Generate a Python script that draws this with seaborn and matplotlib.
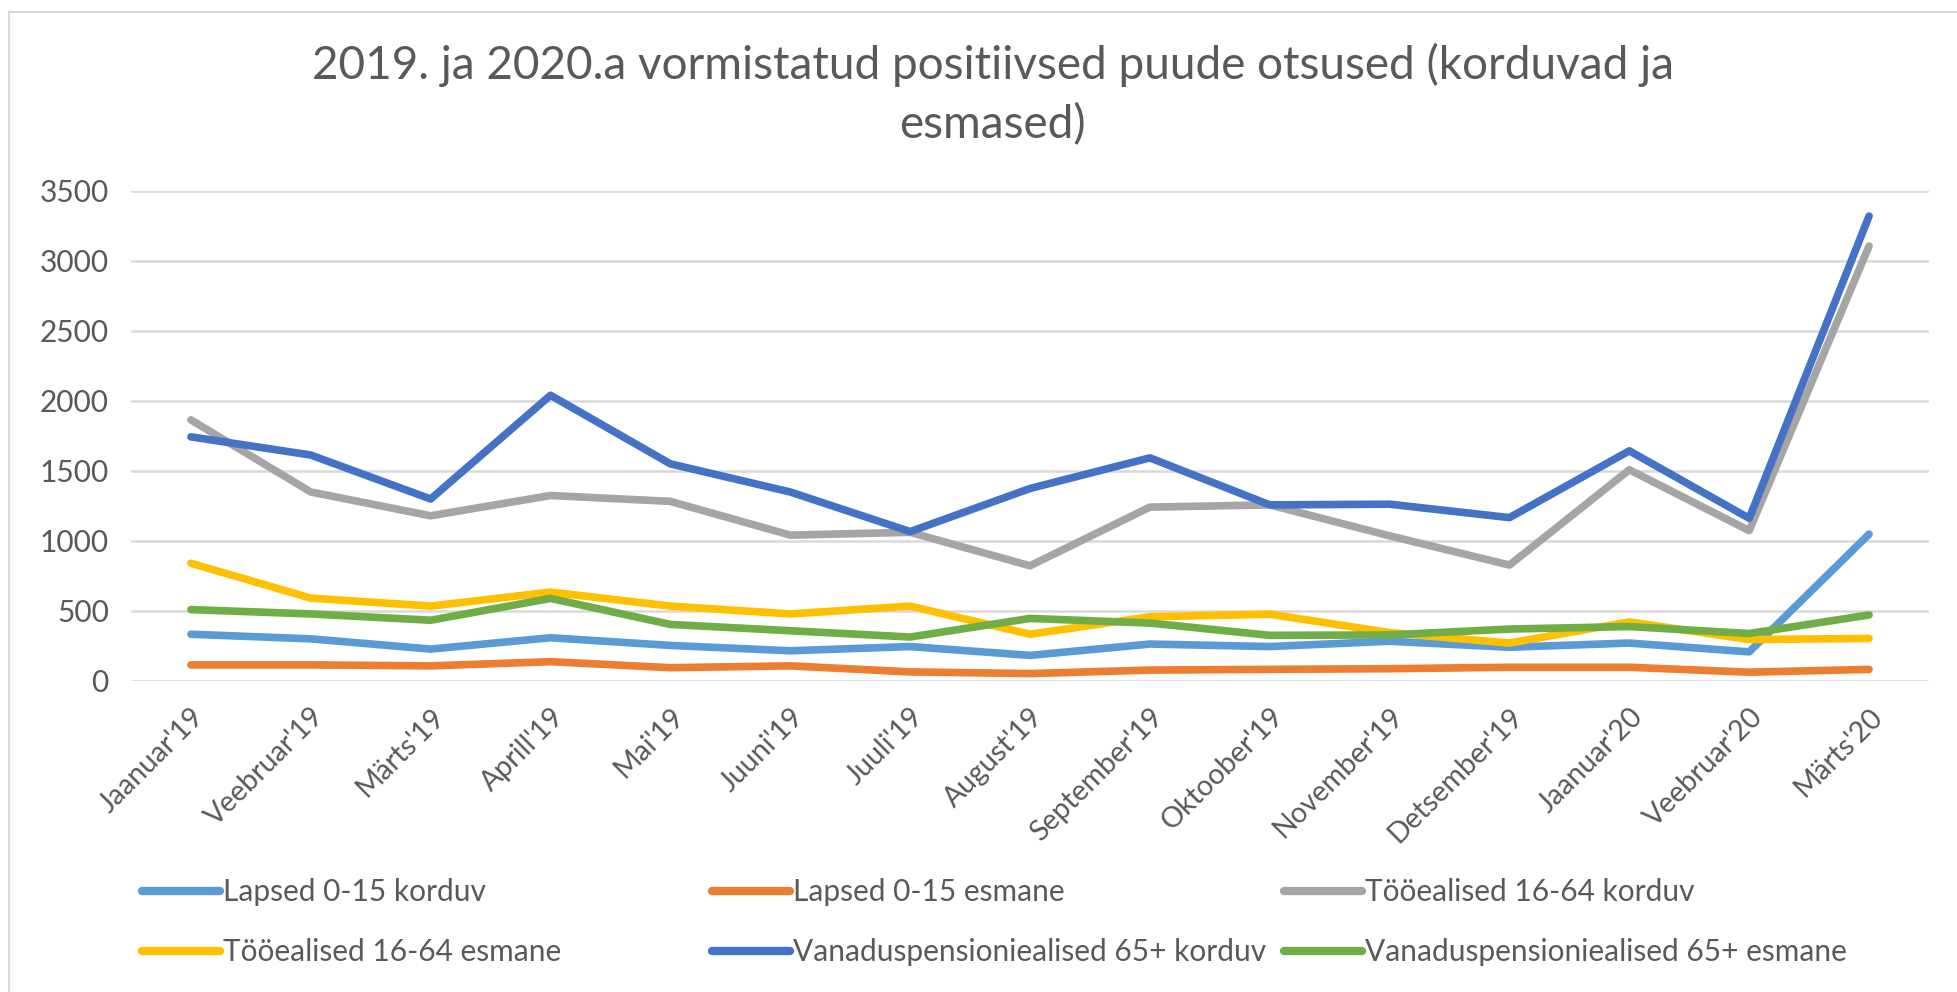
import pandas as pd
import seaborn as sns
import matplotlib.pyplot as plt
from matplotlib.lines import Line2D

# kuud ja andmed (loetud jooniselt)
kuud = ["Jaanuar'19", "Veebruar'19", "Märts'19", "Aprill'19", "Mai'19", "Juuni'19",
        "Juuli'19", "August'19", "September'19", "Oktoober'19", "November'19",
        "Detsember'19", "Jaanuar'20", "Veebruar'20", "Märts'20"]

lapsed_korduv = [334, 301, 228, 309, 254, 216, 246, 183, 264, 246, 284, 241, 271, 208, 1049]
lapsed_esmane = [115, 115, 108, 138, 95, 108, 65, 53, 78, 83, 88, 98, 98, 63, 83]
tooealised_korduv = [1865, 1350, 1180, 1325, 1283, 1042, 1062, 823, 1242, 1258, 1037, 828, 1509, 1074, 3107]
tooealised_esmane = [841, 592, 535, 635, 535, 479, 535, 334, 459, 477, 346, 271, 422, 296, 304]
vanadus_korduv = [1744, 1614, 1300, 2041, 1551, 1350, 1067, 1375, 1594, 1258, 1263, 1167, 1644, 1162, 3321]
vanadus_esmane = [510, 479, 434, 590, 404, 359, 314, 447, 414, 326, 329, 371, 389, 339, 472]

nimed = ["Lapsed 0-15 korduv", "Lapsed 0-15 esmane", "Tööealised 16-64 korduv",
         "Tööealised 16-64 esmane", "Vanaduspensioniealised 65+ korduv",
         "Vanaduspensioniealised 65+ esmane"]
varvid = ["#5B9BD5", "#ED7D31", "#A5A5A5", "#FFC000", "#4472C4", "#70AD47"]

read = [lapsed_korduv, lapsed_esmane, tooealised_korduv, tooealised_esmane,
        vanadus_korduv, vanadus_esmane]
df = pd.concat([pd.DataFrame({"kuu": kuud, "arv": r, "grupp": n}) for r, n in zip(read, nimed)])

sns.set_style("white")
plt.rcParams['font.family'] = ['Lato', 'DejaVu Sans']
tekst = "#595959"
kiri = 21.5

fig = plt.figure(figsize=(19.58, 9.92), dpi=100)
ax = fig.add_axes([131/1958, 1-681/992, (1929-131)/1958, (681-191)/992])

sns.lineplot(data=df, x="kuu", y="arv", hue="grupp", palette=dict(zip(nimed, varvid)),
             hue_order=nimed, sort=False, linewidth=5.5, ax=ax, legend=False,
             solid_capstyle="round", solid_joinstyle="round")

ax.set_xlim(-0.5, len(kuud) - 0.5)
ax.set_ylim(0, 3500)
ax.set_yticks(range(0, 3501, 500))
ax.yaxis.grid(True, color="#D9D9D9", linewidth=1.8)
ax.set_axisbelow(True)
for s in ax.spines.values():
    s.set_visible(False)
ax.set_xlabel("")
ax.set_ylabel("")
ax.tick_params(axis="y", length=0, pad=16, labelsize=kiri, labelcolor=tekst)
ax.tick_params(axis="x", length=0, pad=16, labelsize=20.5, labelcolor=tekst)
ax.set_xticks(range(len(kuud)))
ax.set_xticklabels(kuud, rotation=45, ha="right", rotation_mode="anchor")

# pealkiri kahes reas
fig.text(0.507, 1-65/992, "2019. ja 2020.a vormistatud positiivsed puude otsused (korduvad ja",
         ha="center", va="center", fontsize=33, color=tekst)
fig.text(0.507, 1-125/992, "esmased)", ha="center", va="center", fontsize=33, color=tekst)

# legend kolmes veerus
handles = [Line2D([], [], color=c, linewidth=6, solid_capstyle="round") for c in varvid]
veeru_x = [142/1958, 712/1958, 1284/1958]
for i, x0 in enumerate(veeru_x):
    leg = fig.legend([handles[i], handles[i + 3]], [nimed[i], nimed[i + 3]],
                     loc="upper left", bbox_to_anchor=(x0, 1-878/992), frameon=False,
                     fontsize=kiri, handlelength=2.6, handletextpad=0.1, labelspacing=1.08,
                     borderaxespad=0, borderpad=0)
    for t in leg.get_texts():
        t.set_color(tekst)

# välimine raam
fig.add_artist(Line2D([9/1958, 9/1958], [0, 1-12/992], color="#D9D9D9", linewidth=1.5))
fig.add_artist(Line2D([9/1958, 1], [1-12/992, 1-12/992], color="#D9D9D9", linewidth=1.5))

fig.savefig("out.png", dpi=100)
